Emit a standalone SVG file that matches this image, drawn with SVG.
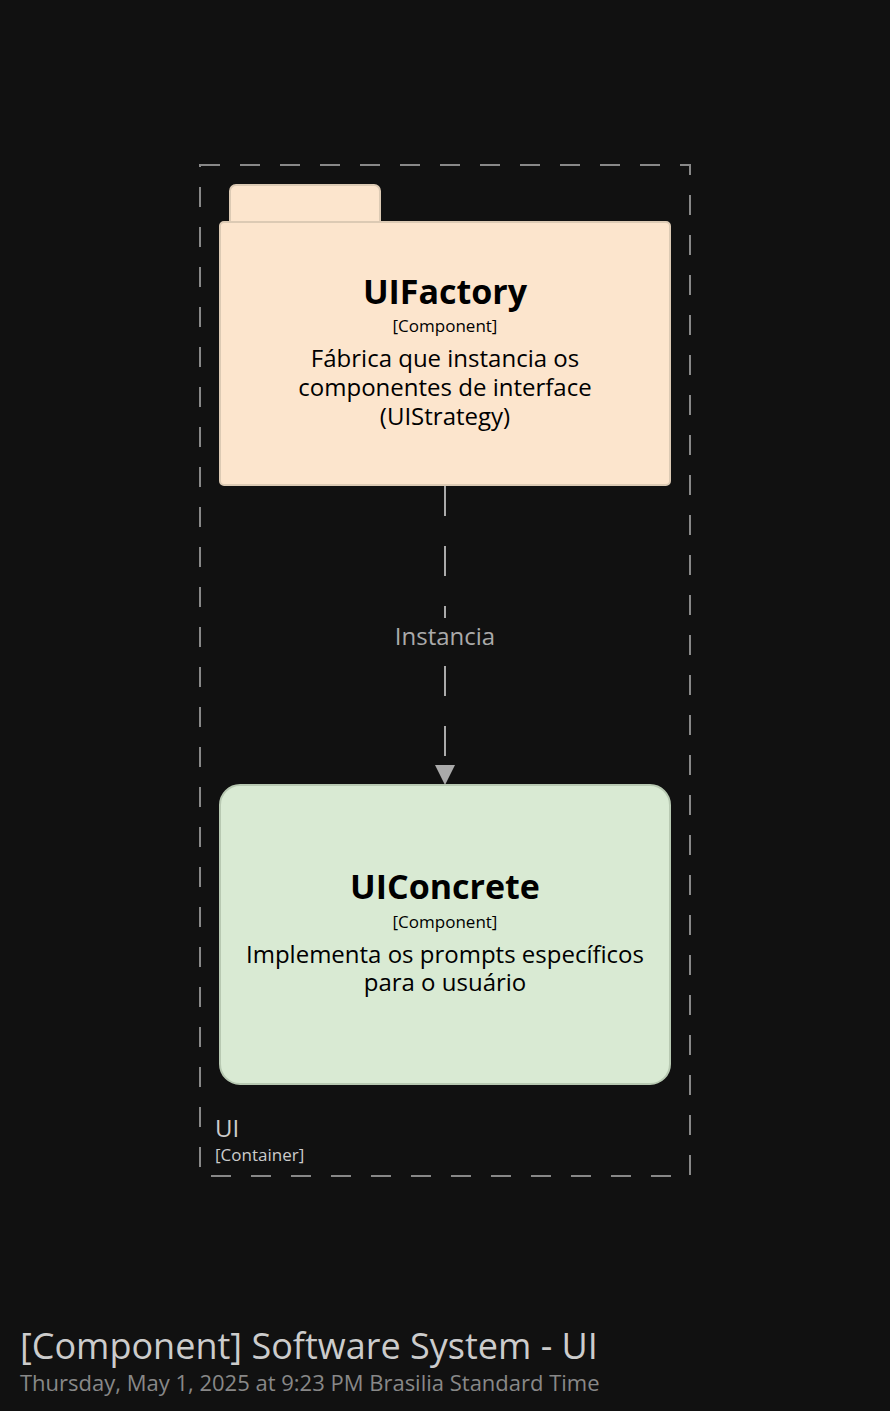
<svg xmlns="http://www.w3.org/2000/svg" width="890" height="1411" viewBox="0 0 890 1411">
<style>
text{font-family:"Open Sans","Noto Sans","DejaVu Sans",sans-serif;}
.nm{font-size:34px;font-weight:bold;fill:#000;text-anchor:middle;}
.ty{font-size:17px;fill:#000;text-anchor:middle;}
.ds{font-size:24px;fill:#000;text-anchor:middle;}
.lbl{font-size:24px;fill:#aaaaaa;text-anchor:middle;}
</style>
<rect width="890" height="1411" fill="#111111"/>
<g id="boundary-ui">
<rect x="200" y="165" width="490" height="1011" fill="none" stroke="#888888" stroke-width="2" stroke-dasharray="20,20"/>
<text x="215" y="1137" font-size="24" fill="#cccccc">UI</text>
<text x="215" y="1161" font-size="17" fill="#cccccc">[Container]</text>
</g>
<g id="connectors">
<line x1="445" y1="486" x2="445" y2="765" stroke="#aaaaaa" stroke-width="2" stroke-dasharray="30,30"/>
<path d="M435,765 L455,765 L445,785 Z" fill="#aaaaaa"/>
<rect x="390" y="618" width="110" height="46" fill="#111111"/>
<text class="lbl" x="445" y="645">Instancia</text>
</g>
<g id="uifactory">
<rect x="230" y="185" width="150" height="45" rx="6" fill="#fce5cd" stroke="#dccab4" stroke-width="2"/>
<rect x="220" y="222" width="450" height="263" rx="4" fill="#fce5cd" stroke="#dccab4" stroke-width="2"/>
<text class="nm" x="445" y="304">UIFactory</text>
<text class="ty" x="445" y="332">[Component]</text>
<text class="ds" x="445" y="367">Fábrica que instancia os</text>
<text class="ds" x="445" y="396">componentes de interface</text>
<text class="ds" x="445" y="425">(UIStrategy)</text>
</g>
<g id="uiconcrete">
<rect x="220" y="785" width="450" height="299" rx="20" fill="#d9ead3" stroke="#b8c9b2" stroke-width="2"/>
<text class="nm" x="445" y="899">UIConcrete</text>
<text class="ty" x="445" y="928">[Component]</text>
<text class="ds" x="445" y="963">Implementa os prompts específicos</text>
<text class="ds" x="445" y="991">para o usuário</text>
</g>
<g id="title">
<text x="20" y="1359" font-size="36" fill="#cccccc">[Component] Software System - UI</text>
<text x="20" y="1391" font-size="22" fill="#888888">Thursday, May 1, 2025 at 9:23 PM Brasilia Standard Time</text>
</g>
</svg>
